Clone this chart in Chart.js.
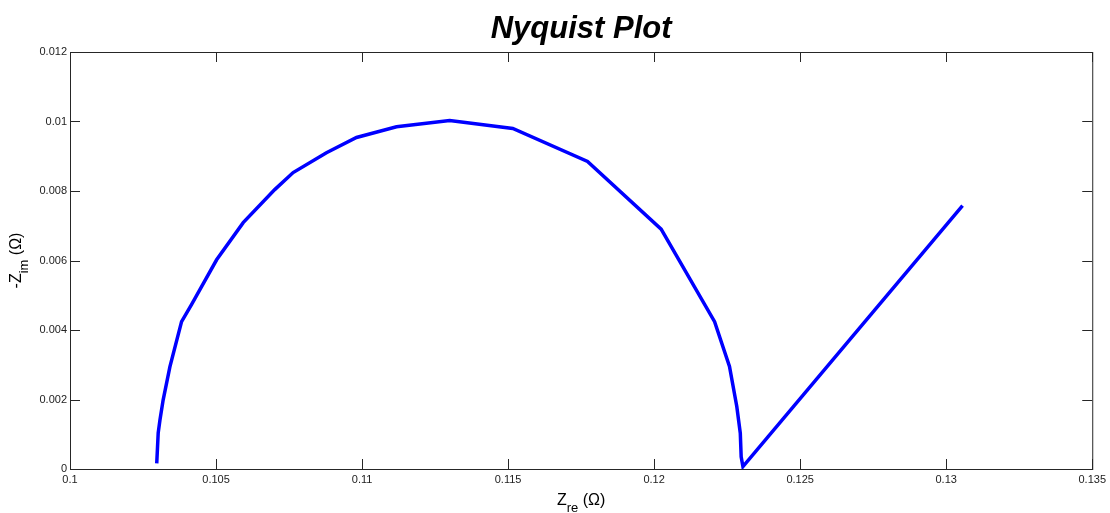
<!DOCTYPE html>
<html>
<head>
<meta charset="utf-8">
<script src="https://cdn.jsdelivr.net/npm/chart.js@4.4.1/dist/chart.umd.min.js"></script>
<style>
  html, body { margin: 0; padding: 0; background: #fff; }
  #wrap { width: 1110px; height: 513px; }
</style>
</head>
<body>
<div id="wrap"><canvas id="nyquist" width="1110" height="513"></canvas></div>
<script>
// Impedance data (ohm)
const zRe = [0.10297, 0.10302, 0.10308, 0.10319, 0.10342, 0.10382, 0.10416, 0.10502, 0.10593,
  0.10701, 0.10764, 0.10878, 0.10981, 0.11118, 0.11300, 0.11516, 0.11772, 0.12024, 0.12207,
  0.12258, 0.12283, 0.12295, 0.12298, 0.12304, 0.13056];
const zIm = [0.00016, 0.00104, 0.00141, 0.00199, 0.00294, 0.00424, 0.00473, 0.00602, 0.00709,
  0.00804, 0.00853, 0.00910, 0.00954, 0.00985, 0.01003, 0.00980, 0.00885, 0.00690, 0.00424,
  0.00295, 0.00180, 0.00103, 0.00035, 0.00007, 0.00758];

const xTicks = [0.1, 0.105, 0.11, 0.115, 0.12, 0.125, 0.13, 0.135];
const yTicks = [0, 0.002, 0.004, 0.006, 0.008, 0.01, 0.012];

const fmt = v => String(+v.toFixed(6));
const font = 'Liberation Sans, Arial, sans-serif';

// box, inward ticks, title and axis labels like MATLAB
const matlabAxes = {
  id: 'matlabAxes',
  afterDraw(chart) {
    const { ctx, chartArea: a, scales } = chart;
    ctx.save();
    ctx.strokeStyle = '#262626';
    ctx.lineWidth = 1;
    ctx.strokeRect(a.left + 0.5, a.top + 0.5, a.right - a.left, a.bottom - a.top);
    ctx.beginPath();
    xTicks.forEach(t => {
      const x = Math.round(scales.x.getPixelForValue(t)) + 0.5;
      ctx.moveTo(x, a.bottom); ctx.lineTo(x, a.bottom - 10);
      ctx.moveTo(x, a.top); ctx.lineTo(x, a.top + 10);
    });
    yTicks.forEach(t => {
      const y = Math.round(scales.y.getPixelForValue(t)) + 0.5;
      ctx.moveTo(a.left, y); ctx.lineTo(a.left + 10, y);
      ctx.moveTo(a.right, y); ctx.lineTo(a.right - 10, y);
    });
    ctx.stroke();

    ctx.fillStyle = '#000';
    ctx.textAlign = 'center';
    ctx.textBaseline = 'alphabetic';
    ctx.font = 'italic bold 31px ' + font;
    ctx.fillText('Nyquist Plot', (a.left + a.right) / 2, 38);

    // label with subscript, centred on x0
    const drawLabel = (main, sub, tail, x0, y0) => {
      ctx.font = '16px ' + font;
      const w1 = ctx.measureText(main).width;
      const w3 = ctx.measureText(tail).width;
      ctx.font = '13px ' + font;
      const w2 = ctx.measureText(sub).width;
      let x = x0 - (w1 + w2 + w3) / 2;
      ctx.textAlign = 'left';
      ctx.font = '16px ' + font;
      ctx.fillText(main, x, y0);
      x += w1;
      ctx.font = '13px ' + font;
      ctx.fillText(sub, x, y0 + 7);
      x += w2;
      ctx.font = '16px ' + font;
      ctx.fillText(tail, x, y0);
    };
    drawLabel('Z', 're', ' (\u03A9)', (a.left + a.right) / 2, 505);

    ctx.translate(21, (a.top + a.bottom) / 2);
    ctx.rotate(-Math.PI / 2);
    drawLabel('-Z', 'im', ' (\u03A9)', 0, 0);
    ctx.restore();
  }
};

new Chart(document.getElementById('nyquist'), {
  type: 'scatter',
  data: {
    datasets: [{
      data: zRe.map((x, i) => ({ x, y: zIm[i] })),
      showLine: true,
      borderColor: '#0000ff',
      borderWidth: 3.5,
      pointRadius: 0,
      tension: 0
    }]
  },
  options: {
    responsive: false,
    animation: false,
    layout: { padding: { top: 52, right: 17, left: 0, bottom: 0 } },
    plugins: { legend: { display: false }, tooltip: { enabled: false } },
    scales: {
      x: {
        type: 'linear', min: 0.1, max: 0.135,
        afterBuildTicks: s => { s.ticks = xTicks.map(v => ({ value: v })); },
        afterFit: s => { s.height = 44; },
        grid: { display: false, drawTicks: false },
        border: { display: false },
        ticks: { callback: fmt, color: '#222', padding: 4, font: { family: font, size: 11 }, maxRotation: 0 }
      },
      y: {
        type: 'linear', min: 0, max: 0.012,
        afterBuildTicks: s => { s.ticks = yTicks.map(v => ({ value: v })); },
        afterFit: s => { s.width = 70; },
        grid: { display: false, drawTicks: false },
        border: { display: false },
        ticks: { callback: fmt, color: '#222', padding: 3, font: { family: font, size: 11 } }
      }
    }
  },
  plugins: [matlabAxes]
});
</script>
</body>
</html>
